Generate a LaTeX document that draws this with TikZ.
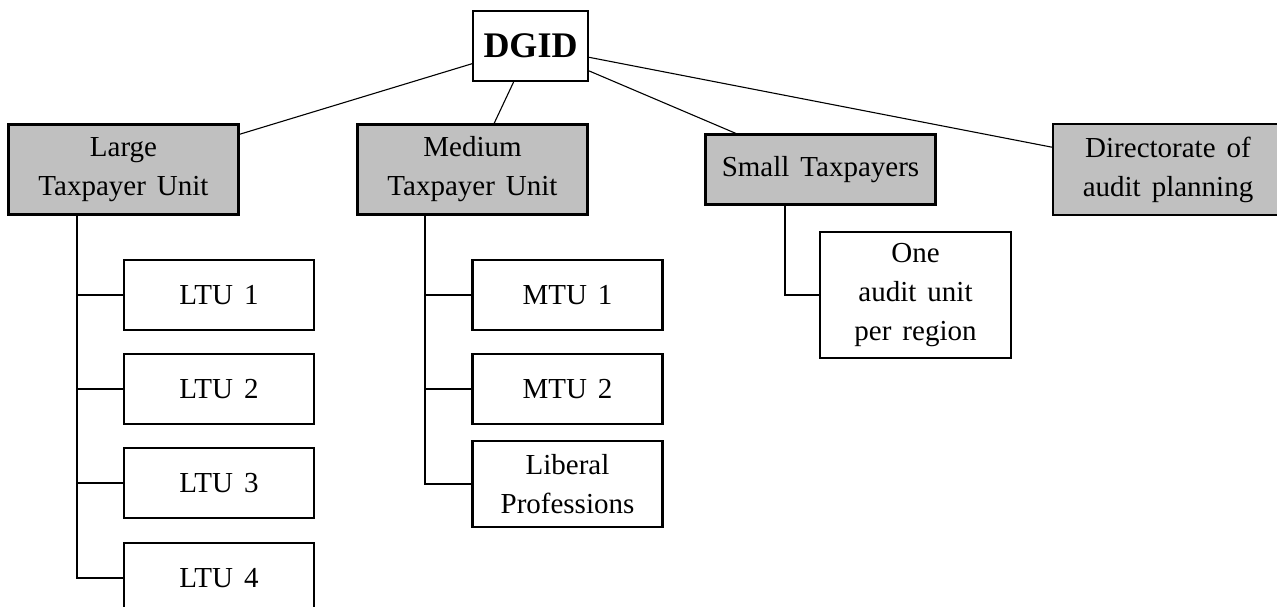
\documentclass[tikz,border=0pt]{standalone}
\usepackage{fontspec}
\setmainfont{Liberation Serif}
\usetikzlibrary{calc}

\definecolor{deptgray}{RGB}{192,192,192}

% wide gap between words inside the boxes
\newcommand{\wsp}{\hspace{11pt}}

\tikzset{
  unit/.style={draw, line width=2.2pt, align=center, inner sep=0pt,
    font=\fontsize{29}{39}\selectfont},
  dept/.style={unit, fill=deptgray, minimum width=230pt},
  subunit/.style={unit, fill=white, minimum width=190pt, minimum height=70pt},
  link/.style={line width=1.1pt},
}

\begin{document}
\begin{tikzpicture}[x=1pt, y=-1pt]
  \useasboundingbox (0,0) rectangle (1277,607);
  \clip (0,0) rectangle (1277,607);

  % head office
  \node[unit, minimum width=115pt, minimum height=70pt,
        font=\fontsize{36}{40}\selectfont\bfseries] (dgid) at (530.5,46) {DGID};

  % departments
  \node[dept, minimum height=90pt] (large)  at (123.5,169.5) {Large\\Taxpayer\wsp Unit};
  \node[dept, minimum height=90pt] (medium) at (472.5,169.5) {Medium\\Taxpayer\wsp Unit};
  \node[dept, minimum height=70pt] (small)  at (820.5,169.5) {Small\wsp Taxpayers};
  \node[dept, minimum height=91pt] (dap)    at (1168,169.5) {Directorate\wsp of\\audit\wsp planning};

  % large taxpayer units
  \node[subunit] (ltu1) at (219,295) {LTU\wsp 1};
  \node[subunit] (ltu2) at (219,389) {LTU\wsp 2};
  \node[subunit] (ltu3) at (219,483) {LTU\wsp 3};
  \node[subunit] (ltu4) at (219,578) {LTU\wsp 4};

  % medium taxpayer units
  \node[subunit] (mtu1) at (567.5,295) {MTU\wsp 1};
  \node[subunit] (mtu2) at (567.5,389) {MTU\wsp 2};
  \node[subunit, minimum height=86pt] (lib) at (567.5,484) {Liberal\\Professions};

  % small taxpayer audit
  \node[subunit, minimum width=191pt, minimum height=126pt] (one) at (915.5,295)
    {One\\audit\wsp unit\\per\wsp region};

  % links from the head office
  \foreach \d in {large, medium, small, dap}
    \draw[link] (dgid) -- (\d);

  % branch rails
  \coordinate (lrail) at (77,0);
  \coordinate (mrail) at (425,0);
  \coordinate (srail) at (785,0);

  \foreach \c in {ltu1, ltu2, ltu3, ltu4}
    \draw[link] (large.south -| lrail) |- (\c.west);
  \foreach \c in {mtu1, mtu2, lib}
    \draw[link] (medium.south -| mrail) |- (\c.west);
  \draw[link] (small.south -| srail) |- (one.west);
\end{tikzpicture}
\end{document}
